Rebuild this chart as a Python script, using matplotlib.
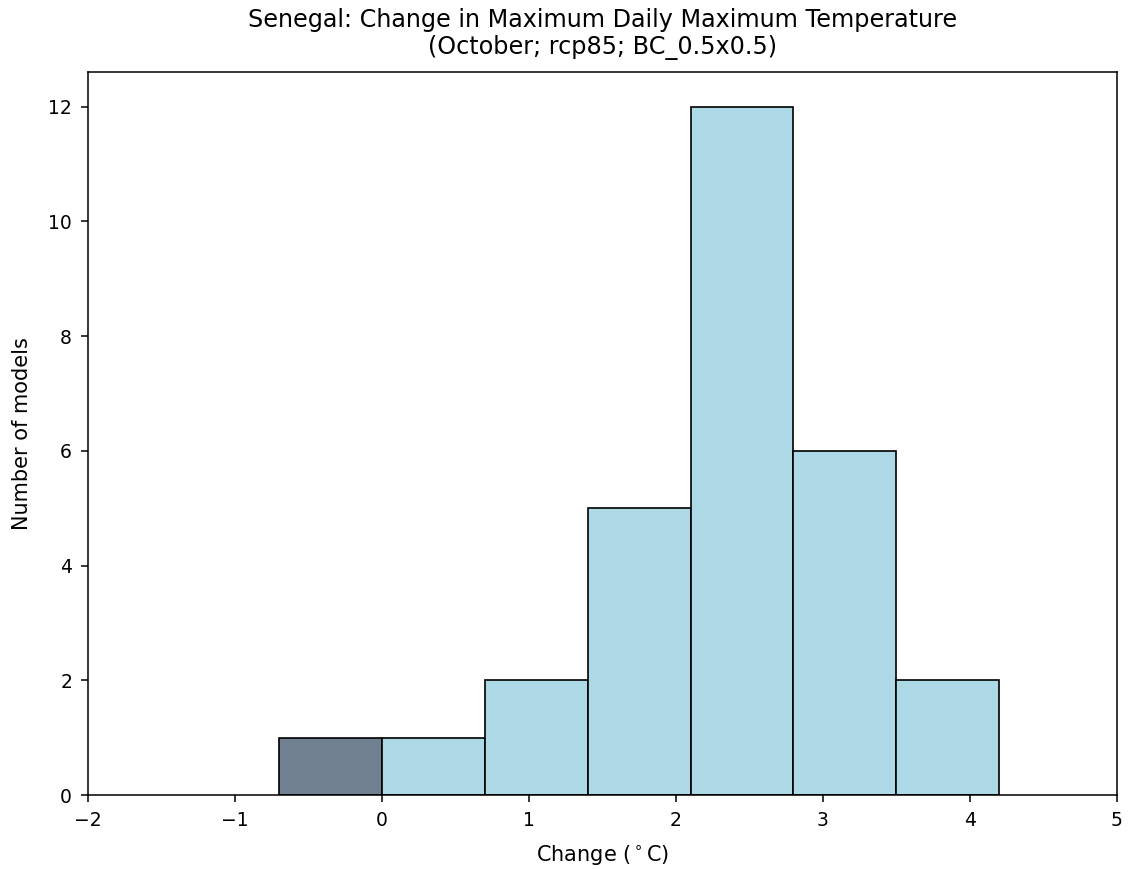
import numpy as np
import matplotlib
matplotlib.use("Agg")
import matplotlib.pyplot as plt

# histogram bins (deg C) and model counts
bin_edges = [-0.7, 0.0, 0.7, 1.4, 2.1, 2.8, 3.5, 4.2]
counts = [1, 1, 2, 5, 12, 6, 2]
bar_colors = ["slategray", "lightblue", "lightblue", "lightblue",
              "lightblue", "lightblue", "lightblue"]

title = "Senegal: Change in Maximum Daily Maximum Temperature\n(October; rcp85; BC_0.5x0.5)"

fig = plt.figure(figsize=(11.28, 8.69), dpi=100)
ax = fig.add_axes([0.078, 0.085, 0.912, 0.832])

left = np.array(bin_edges[:-1])
widths = np.diff(bin_edges)
ax.bar(left, counts, width=widths, align="edge", color=bar_colors,
       edgecolor="black", linewidth=1.2)

ax.set_xlim(-2, 5)
ax.set_ylim(0, 12.6)
ax.set_xticks(range(-2, 6))
ax.set_yticks(range(0, 13, 2))
ax.tick_params(labelsize=13.5, length=5, width=1.1, pad=6.5)
for s in ax.spines.values():
    s.set_linewidth(1.1)
ax.set_xlabel("Change ($^\\circ$C)", fontsize=15, labelpad=9)
ax.set_ylabel("Number of models", fontsize=15, labelpad=12)
ax.set_title(title, fontsize=17.2, linespacing=1.15, pad=13)

plt.savefig("out.png", dpi=100)
plt.close()
